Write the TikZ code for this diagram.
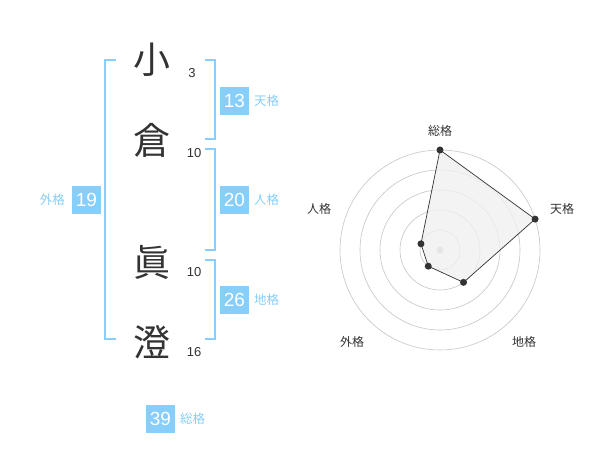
\documentclass[tikz,border=0pt]{standalone}
\usepackage{fontspec}
\usetikzlibrary{positioning}
\setmainfont{Liberation Sans}
\newfontfamily\jp{Noto Sans CJK JP}
\definecolor{skyb}{HTML}{87CEFA}
\definecolor{ink}{HTML}{333333}
\tikzset{
  kanji/.style={text=ink,font=\jp\fontsize{37}{37}\selectfont,inner sep=0pt},
  strokes/.style={text=ink,font=\fontsize{13}{13}\selectfont,inner sep=0pt},
  valbox/.style={fill=skyb,text=white,minimum width=28.5pt,minimum height=28.5pt,inner sep=0pt,font=\fontsize{19}{19}\selectfont},
  kaku/.style={text=skyb,font=\jp\fontsize{12.5}{12.5}\selectfont,inner sep=0pt},
  radlabel/.style={text=ink,font=\jp\fontsize{12}{12}\selectfont,inner sep=0pt},
  bracket/.style={skyb,line width=2pt},
}
\begin{document}
\begin{tikzpicture}[x=1pt,y=-1pt]
            \useasboundingbox[fill=white] (0,0) rectangle (600,470);
            % name and stroke counts
            \node[kanji] (k1) at (152,60) {小};
            \node[kanji] (k2) at (152,140) {倉};
            \node[kanji] (k3) at (152,262) {眞};
            \node[kanji] (k4) at (152,342) {澄};
            \node[strokes] (s1) at (192,73) {3};
            \node[strokes] (s2) at (194,153) {10};
            \node[strokes] (s3) at (194,272) {10};
            \node[strokes] (s4) at (194,352) {16};
            % brackets
            \draw[bracket] (116,60) -- (105,60) -- (105,339) -- (116,339);
            \draw[bracket] (205,60) -- (215,60) -- (215,139) -- (205,139);
            \draw[bracket] (205,149) -- (215,149) -- (215,250) -- (205,250);
            \draw[bracket] (205,260) -- (215,260) -- (215,339) -- (205,339);
            % values
            \node[valbox] (ten) at (234.5,101) {13};
            \node[kaku,right=5pt of ten] (tenl) {天格};
            \node[valbox] (jin) at (234.5,200) {20};
            \node[kaku,right=5pt of jin] (jinl) {人格};
            \node[valbox] (chi) at (234.5,300) {26};
            \node[kaku,right=5pt of chi] (chil) {地格};
            \node[valbox] (gai) at (86.5,200) {19};
            \node[kaku,left=7pt of gai] (gail) {外格};
            \node[valbox] (sou) at (160.5,419) {39};
            \node[kaku,right=5pt of sou] (soul) {総格};
            % radar chart
            \begin{scope}[shift={(440,250)}]
              \foreach \r in {20,40,60,80,100} {\draw[gray!45,line width=0.6pt] (0,0) circle (\r);}
              \fill[gray!55] (0,0) circle (3.5);
              \draw[ink,fill=gray!12,fill opacity=0.8,line width=0.7pt] (-90:100) -- (-18:100) -- (54:40) -- (126:20) -- (198:20) -- cycle;
              \foreach \a/\r in {-90/100,-18/100,54/40,126/20,198/20} {\fill[ink] (\a:\r) circle (3.5);}
            \end{scope}
            \node[radlabel] (l1) at (440,131) {総格};
            \node[radlabel] (l2) at (562,209) {天格};
            \node[radlabel] (l3) at (319,209) {人格};
            \node[radlabel] (l4) at (352,342) {外格};
            \node[radlabel] (l5) at (524,342) {地格};
        \end{tikzpicture}
\end{document}
